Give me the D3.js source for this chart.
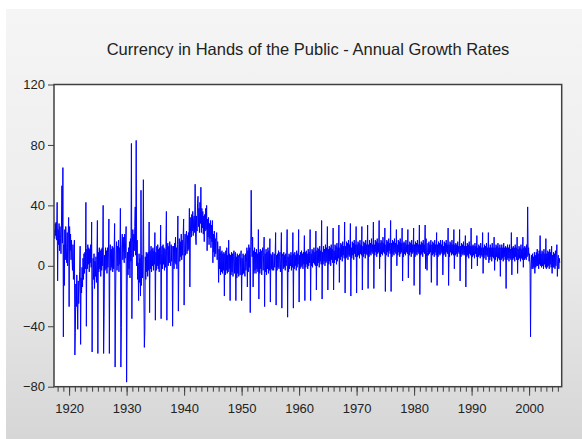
<!DOCTYPE html>
<html><head><meta charset="utf-8">
<script src="https://cdn.jsdelivr.net/npm/d3@7"></script>
<style>html,body{margin:0;padding:0;background:#fff;} svg{display:block;}</style>
</head><body><svg id="c" width="582" height="439"></svg>
<script>
const chartTitle = "Currency in Hands of the Public - Annual Growth Rates";
const startYear = 1917;
const startMonth = 6; // first observation: June 1917, monthly
const yTicks = [-80, -40, 0, 40, 80, 120];
const xTickLabels = [1920, 1930, 1940, 1950, 1960, 1970, 1980, 1990, 2000];
const yearDomain = [1917.37, 2005.67];
const valueDomain = [-80, 120];

const growth = [
  /*1917*/ 24, 18, 28, 20, 29, 17, 42,
  /*1918*/ -10, 24, 14, 28, 10, 26, 18, 8, 27, 53, 15, 65,
  /*1919*/ -47, 14, -13, 24, 4, 26, 12, 2, 22, 0, 19, 32,
  /*1920*/ -27, 26, 10, 21, 4, 17, 6, -3, 14, -9, 7, 17,
  /*1921*/ -59, -44, -12, -27, -6, -22, -42, -10, -25, -14, -4, 13,
  /*1922*/ -52, -8, -18, -1, -14, 5, -9, 8, -5, 9, -2, 42,
  /*1923*/ -40, 11, -2, 14, 1, 12, -4, 11, 2, 14, -1, 29,
  /*1924*/ -57, -13, 5, -9, 8, -15, 3, -7, 6, -11, 4, 30,
  /*1925*/ -58, 9, -4, 12, -2, 10, -7, 11, -3, 12, 0, 40,
  /*1926*/ -58, -34, 7, -3, 12, -2, 10, -5, 12, -1, 9, 31,
  /*1927*/ -58, 8, 14, -3, 11, -1, 13, -4, 12, -2, 10, 28,
  /*1928*/ -67, -20, 9, 16, -3, 13, 0, 17, -4, 12, 1, 38,
  /*1929*/ -67, -41, 14, 21, 4, 19, 8, 2, 21, 5, 17, 26,
  /*1930*/ -77, -16, 9, -6, 12, -2, 16, -8, 18, 3, 81, -35,
  /*1931*/ 15, 24, 6, 21, 10, 26, 39, 7, 83, 0, 17, -9,
  /*1932*/ 2, -23, 8, -11, 5, -20, 50, -13, 7, -8, 4, 57,
  /*1933*/ -16, -54, -43, 6, -9, 9, -4, 8, -7, 9, -3, 29,
  /*1934*/ -31, 10, -2, 13, -4, 11, 0, 12, -3, 10, 1, 22,
  /*1935*/ -36, 9, -3, 13, 0, 14, -2, 11, -4, 12, 1, 27,
  /*1936*/ -35, 8, 13, -2, 14, 1, 12, -3, 11, -1, 13, 36,
  /*1937*/ -36, 10, 15, 0, 13, 2, 16, 3, 0, 14, 3, 13,
  /*1938*/ -40, 0, 13, -2, 15, 2, 19, 1, 12, -2, 14, 33,
  /*1939*/ -30, 5, 18, 3, 16, 6, 21, 4, 17, 7, 20, 31,
  /*1940*/ -26, 9, 21, 7, 19, 23, 8, 20, 10, 22, 11, 38,
  /*1941*/ -14, 21, 32, 19, 34, 23, 36, 20, 31, 33, 22, 54,
  /*1942*/ 19, 14, 33, 23, 41, 46, 26, 38, 22, 42, 28, 52,
  /*1943*/ 22, 38, 25, 36, 21, 33, 16, 34, 23, 38, 24, 40,
  /*1944*/ 10, 31, 19, 32, 14, 28, 18, 30, 12, 27, 16, 30,
  /*1945*/ 2, 21, 9, 23, 6, 18, 8, 19, 22, 4, 16, 9,
  /*1946*/ -11, 11, -2, 13, -6, 9, -4, 10, -5, 8, -3, 9,
  /*1947*/ -20, 8, -6, 10, -3, 12, -5, 7, -4, 17, -2, 8,
  /*1948*/ -23, 7, -6, 9, -4, 8, -7, 6, 10, -5, 7, 9,
  /*1949*/ -23, 6, -8, 8, -5, 7, -7, 5, 8, -6, 6, 10,
  /*1950*/ -23, 5, -6, 8, -5, 7, -4, -7, 8, -3, 2, 12,
  /*1951*/ -14, 10, -4, 14, -1, 12, -31, 8, 50, 16, 6, 19,
  /*1952*/ -14, 10, -5, 12, -3, 9, -5, 11, -2, 8, -4, 24,
  /*1953*/ -22, 9, -5, 11, -2, 10, -6, 8, 12, -3, 7, 19,
  /*1954*/ -27, 8, -4, 11, -6, 9, -2, 12, -5, 10, -3, 18,
  /*1955*/ -24, 8, -2, 7, -3, 9, 0, -3, 8, -1, 6, 22,
  /*1956*/ -26, 7, -3, 8, -1, 10, -2, 6, 9, -4, 5, 22,
  /*1957*/ -28, 6, 8, -2, 9, -1, 7, -3, 8, 0, 4, 24,
  /*1958*/ -34, 6, -4, 8, -2, 7, 0, 9, -3, 7, -1, 22,
  /*1959*/ -28, 8, -2, 9, 0, 7, -3, 10, -1, 8, 1, 24,
  /*1960*/ -24, 7, -2, 9, -1, 10, 0, 8, -2, 9, 1, 20,
  /*1961*/ -23, 9, -1, 10, 1, 8, -2, 11, 0, 9, 2, 24,
  /*1962*/ -23, 8, 0, 11, -1, 10, 2, 12, 1, 9, 0, 23,
  /*1963*/ -16, 10, 0, 12, 2, 11, -1, 13, 3, 10, 1, 30,
  /*1964*/ -22, 9, 1, 13, 3, 11, 0, 14, 2, 12, 3, 26,
  /*1965*/ -16, 11, 1, 13, 3, 12, 0, 14, 4, 11, 2, 25,
  /*1966*/ -16, 10, 2, 14, 4, 13, 1, 15, 3, 12, 5, 27,
  /*1967*/ -11, 12, 4, 15, 6, 14, 3, 16, 7, 13, 5, 29,
  /*1968*/ -18, 13, 5, 16, 6, 15, 4, 17, 7, 14, 6, 28,
  /*1969*/ -20, 12, 5, 16, 7, 15, 4, 17, 8, 14, 6, 26,
  /*1970*/ -18, 14, 6, 16, 7, 15, 5, 17, 8, 14, 7, 26,
  /*1971*/ -16, 13, 6, 16, 8, 15, 5, 17, 8, 14, 7, 27,
  /*1972*/ -15, 14, 6, 17, 8, 15, 7, 18, 9, 14, 8, 29,
  /*1973*/ -15, 14, 7, 17, 9, 16, 6, 18, 8, 15, 9, 30,
  /*1974*/ -2, 15, 6, 17, 8, 16, 7, 19, 9, 15, 8, 25,
  /*1975*/ -17, 14, 7, 17, 9, 16, 6, 18, 10, 15, 8, 30,
  /*1976*/ -17, 15, 6, 17, 8, 16, 7, 18, 9, 15, 8, 24,
  /*1977*/ 0, 14, 7, 17, 9, 16, 6, 18, 8, 15, 9, 25,
  /*1978*/ -10, 15, 6, 16, 8, 15, 7, 17, 9, 14, 8, 24,
  /*1979*/ -8, 14, 7, 16, 9, 15, 6, 17, 8, 14, 9, 25,
  /*1980*/ -13, 14, 6, 16, 8, 15, 7, 17, 9, 14, 8, 27,
  /*1981*/ -19, 14, 7, 16, 8, 15, 6, 17, 9, 14, 8, 27,
  /*1982*/ -2, 18, 6, -3, 9, 15, 7, 16, 8, 14, 9, 17,
  /*1983*/ -11, 14, 7, 16, 8, 15, 6, 17, 9, 14, 7, 22,
  /*1984*/ -13, 14, 6, 16, 8, 15, 7, 17, 8, 14, 9, 17,
  /*1985*/ -6, 13, 7, 16, 8, 15, 6, 17, 9, 14, 8, 25,
  /*1986*/ -13, 14, 6, 16, 9, 15, 7, 17, 8, 14, 7, 24,
  /*1987*/ -2, 14, 7, 15, 8, 14, 6, 16, 9, 13, 8, 24,
  /*1988*/ -10, 13, 6, 15, 8, 14, 7, 16, 8, 13, 7, 20,
  /*1989*/ -14, 13, 6, 15, 7, 14, 5, 16, 8, 13, 7, 25,
  /*1990*/ -2, 13, 6, 14, 7, 13, 5, 15, 8, 13, 6, 20,
  /*1991*/ 0, 12, 6, 14, 7, 13, 5, 15, 7, 12, 6, 22,
  /*1992*/ -5, 12, 5, 14, 7, 13, 4, 15, 7, 12, 6, 22,
  /*1993*/ 2, 12, 4, 14, 6, 12, 3, 15, 6, 12, 5, 19,
  /*1994*/ -3, 12, 4, 14, 6, 13, 3, 15, 5, 12, 4, 14,
  /*1995*/ -7, 12, 4, 14, 5, 12, 3, 15, 6, 12, 4, 13,
  /*1996*/ -15, 12, 4, 14, 5, 12, 3, 14, 5, 11, 4, 22,
  /*1997*/ -6, 12, 4, 13, 5, 12, 3, 14, 6, 12, 4, 19,
  /*1998*/ -5, 11, 4, 13, 5, 12, 3, 14, 5, 11, 4, 19,
  /*1999*/ -1, 12, 4, 13, 5, 12, 4, 14, 6, 39, 7, 12,
  /*2000*/ 3, 8, 0, -47, -1, 7, -2, 8, -2, 6, -1, 9,
  /*2001*/ -5, 7, -1, 9, 0, 11, 0, 8, -2, 10, 1, 20,
  /*2002*/ 0, 8, -1, 10, 0, 9, -2, 11, 1, 8, -1, 18,
  /*2003*/ -2, 8, -1, 10, 0, 9, -2, 11, 1, 9, -1, 13,
  /*2004*/ -5, 7, -1, 9, -1, 8, -2, 10, 0, 8, 14, -7,
  /*2005*/ 3, 7, -2, 5, 2
];

const svg = d3.select("#c");
const W = 582, H = 439;
const plot = {left: 54, top: 84.5, right: 561.7, bottom: 386.7};

const defs = svg.append("defs");
const grad = defs.append("linearGradient").attr("id", "bg").attr("x1", 0).attr("y1", 0).attr("x2", 0).attr("y2", 1);
grad.append("stop").attr("offset", "0%").attr("stop-color", "#f5f5f5");
grad.append("stop").attr("offset", "55%").attr("stop-color", "#ececec");
grad.append("stop").attr("offset", "100%").attr("stop-color", "#d6d6d6");
defs.append("clipPath").attr("id", "clip").append("rect")
  .attr("x", plot.left).attr("y", plot.top)
  .attr("width", plot.right - plot.left).attr("height", plot.bottom - plot.top);

svg.append("rect").attr("width", W).attr("height", H).attr("fill", "#ffffff");
svg.append("rect").attr("x", 6).attr("y", 9).attr("width", W - 6).attr("height", H - 9).attr("fill", "url(#bg)");

const x = d3.scaleLinear().domain(yearDomain).range([plot.left, plot.right]);
const y = d3.scaleLinear().domain(valueDomain).range([plot.bottom, plot.top]);

svg.append("rect").attr("x", plot.left).attr("y", plot.top)
  .attr("width", plot.right - plot.left).attr("height", plot.bottom - plot.top)
  .attr("fill", "#ffffff");

const series = growth.map((v, i) => ({t: startYear + (startMonth - 1 + i) / 12, v}));

svg.append("path").datum(series)
  .attr("clip-path", "url(#clip)")
  .attr("fill", "none").attr("stroke", "#0000ff").attr("stroke-width", 1)
  .attr("d", d3.line().x(d => x(d.t)).y(d => y(d.v)));

svg.append("rect").attr("x", plot.left).attr("y", plot.top)
  .attr("width", plot.right - plot.left).attr("height", plot.bottom - plot.top)
  .attr("fill", "none").attr("stroke", "#404040").attr("stroke-width", 1.5);

const font = "'Liberation Sans', Arial, sans-serif";

const yAxis = svg.append("g").attr("transform", `translate(${plot.left},0)`)
  .call(d3.axisLeft(y).tickValues(yTicks).tickSize(6).tickPadding(3).tickFormat(d3.format("d")));
yAxis.select(".domain").remove();
yAxis.selectAll("line").attr("stroke", "#404040");
yAxis.selectAll("text").attr("font-family", font).attr("font-size", 13).attr("fill", "#222");

const years = d3.range(1918, 2006);
const xMinor = svg.append("g").attr("transform", `translate(0,${plot.bottom})`)
  .call(d3.axisBottom(x).tickValues(years).tickSize(5).tickFormat(""));
xMinor.select(".domain").remove();
xMinor.selectAll("line").attr("stroke", "#404040");

const xMajor = svg.append("g").attr("transform", `translate(0,${plot.bottom})`)
  .call(d3.axisBottom(x).tickValues(xTickLabels).tickSize(9).tickPadding(10).tickFormat(d3.format("d")));
xMajor.select(".domain").remove();
xMajor.selectAll("line").attr("stroke", "#404040");
xMajor.selectAll("text").attr("font-family", font).attr("font-size", 13).attr("fill", "#222");
xMajor.selectAll(".tick text").attr("y", 17);

svg.append("text").attr("x", 308).attr("y", 55)
  .attr("text-anchor", "middle").attr("font-family", font).attr("font-size", 16.5)
  .attr("fill", "#222").text(chartTitle);
</script></body></html>
